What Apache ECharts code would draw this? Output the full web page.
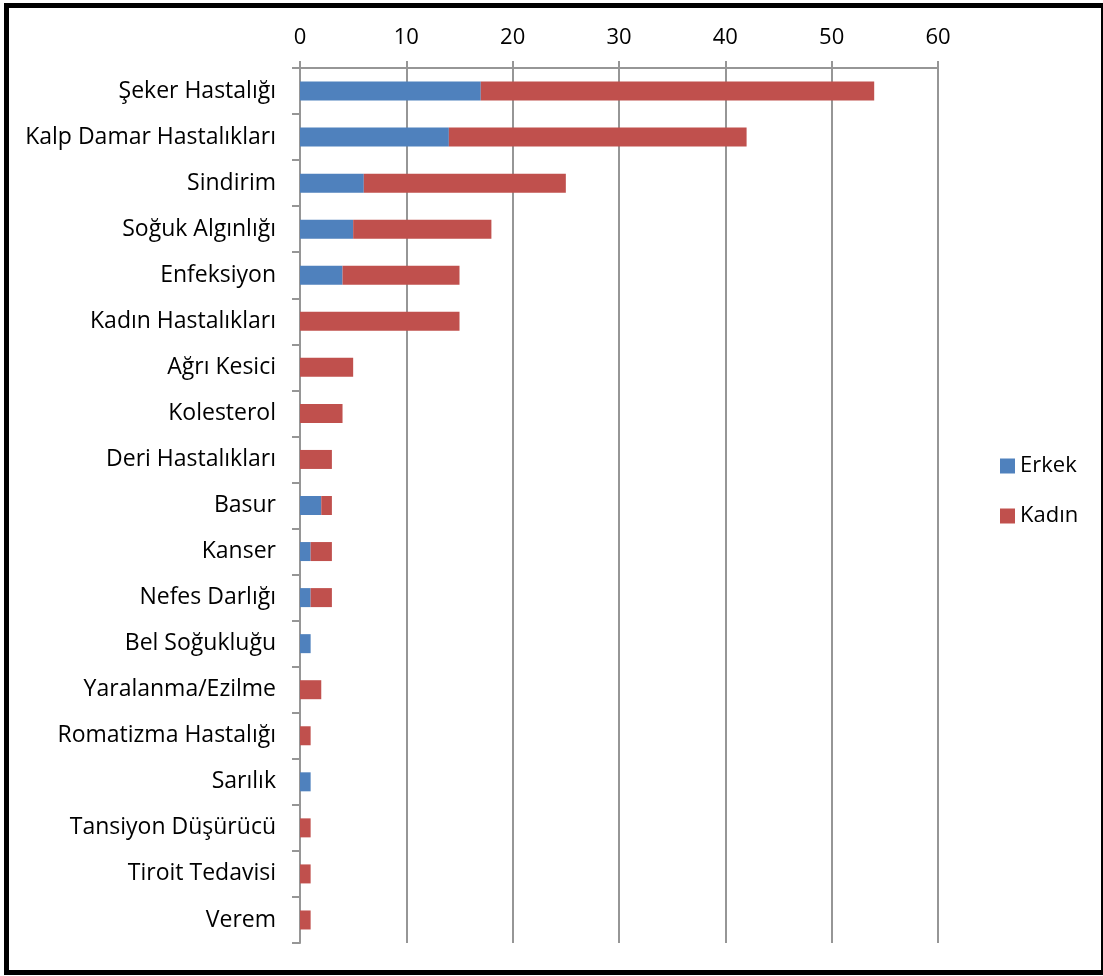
<!DOCTYPE html>
<html>
<head>
<meta charset="utf-8">
<script src="https://cdn.jsdelivr.net/npm/echarts@6/dist/echarts.min.js"></script>
<style>
  html, body { margin: 0; padding: 0; background: #fff; }
  #chart { width: 1103px; height: 976px; }
  #frame {
    position: absolute; left: 4px; top: 3px; width: 1092px; height: 962px;
    border: 5px solid #000; pointer-events: none;
  }
</style>
</head>
<body>
<div id="chart"></div>
<div id="frame"></div>
<script>
// hastalık kategorileri (yukarıdan aşağıya)
var categories = [
  'Şeker Hastalığı', 'Kalp Damar Hastalıkları', 'Sindirim', 'Soğuk Algınlığı',
  'Enfeksiyon', 'Kadın Hastalıkları', 'Ağrı Kesici', 'Kolesterol',
  'Deri Hastalıkları', 'Basur', 'Kanser', 'Nefes Darlığı', 'Bel Soğukluğu',
  'Yaralanma/Ezilme', 'Romatizma Hastalığı', 'Sarılık', 'Tansiyon Düşürücü',
  'Tiroit Tedavisi', 'Verem'
];
var erkek = [17, 14, 6, 5, 4, 0, 0, 0, 0, 2, 1, 1, 1, 0, 0, 1, 0, 0, 0];
var kadin = [37, 28, 19, 13, 11, 15, 5, 4, 3, 1, 2, 2, 0, 2, 1, 0, 1, 1, 1];
var seriesNames = ['Erkek', 'Kadın'];
var colors = ['#4F81BD', '#C0504D'];

var font = '"Open Sans", sans-serif';
var chart = echarts.init(document.getElementById('chart'));
var option = {
  animation: false,
  textStyle: { fontFamily: font },
  grid: { left: 300, right: 165, top: 68, bottom: 33, containLabel: false },
  legend: {
    data: seriesNames,
    orient: 'vertical',
    left: 995,
    top: 450,
    itemGap: 28,
    itemWidth: 15,
    itemHeight: 15,
    icon: 'rect',
    textStyle: { fontSize: 22, color: '#000', fontFamily: font }
  },
  xAxis: {
    type: 'value',
    position: 'top',
    min: 0,
    max: 60,
    interval: 10,
    axisLine: { show: true, lineStyle: { color: '#969696', width: 2 } },
    axisTick: { show: true, length: 7, lineStyle: { color: '#969696', width: 2 } },
    splitLine: { show: true, lineStyle: { color: '#969696', width: 2 } },
    axisLabel: { fontSize: 22, color: '#000', margin: 19, fontFamily: font }
  },
  yAxis: {
    type: 'category',
    inverse: true,
    data: categories,
    axisLine: { show: true, lineStyle: { color: '#969696', width: 2 } },
    axisTick: { show: true, length: 8, lineStyle: { color: '#969696', width: 2 } },
    axisLabel: { fontSize: 23, color: '#000', margin: 24, fontFamily: font }
  },
  series: [
    { name: seriesNames[0], type: 'bar', stack: 'total', data: erkek, barWidth: 19,
      itemStyle: { color: colors[0] } },
    { name: seriesNames[1], type: 'bar', stack: 'total', data: kadin, barWidth: 19,
      itemStyle: { color: colors[1] } }
  ]
};
chart.setOption(option);
</script>
</body>
</html>
